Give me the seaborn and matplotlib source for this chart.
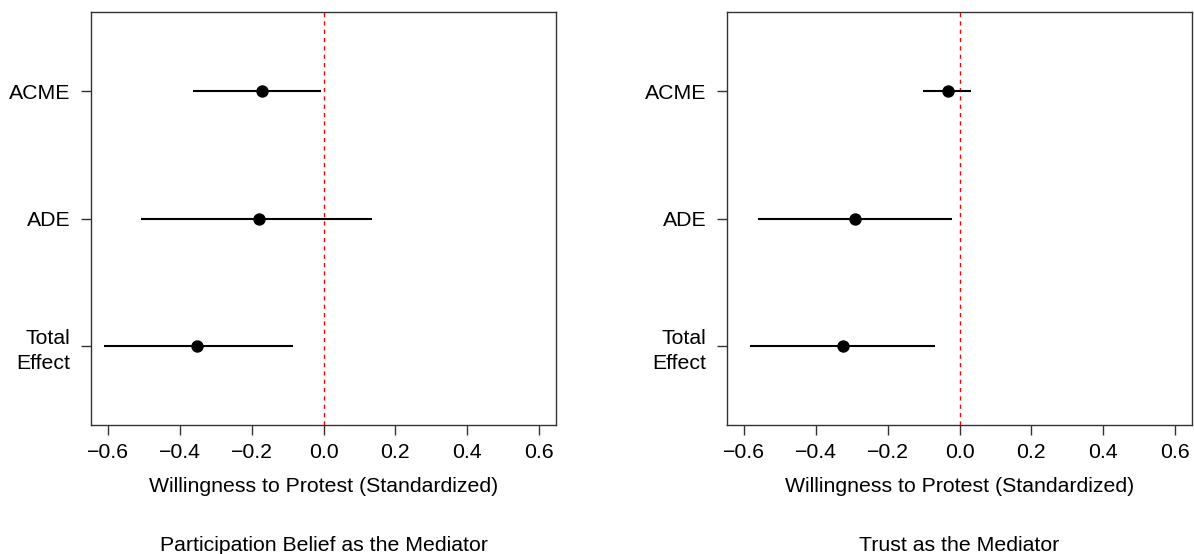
import matplotlib
matplotlib.use("Agg")
import matplotlib.pyplot as plt
import seaborn as sns
import pandas as pd

sns.set_theme(style="white")
plt.rcParams['font.family'] = ['Liberation Sans', 'DejaVu Sans']

effects = ["ACME", "ADE", "Total\nEffect"]
ypos = [3, 2, 1]

left_est = [-0.172, -0.181, -0.353]
left_lo = [-0.364, -0.508, -0.611]
left_hi = [-0.008, 0.136, -0.086]

right_est = [-0.033, -0.292, -0.325]
right_lo = [-0.103, -0.561, -0.583]
right_hi = [0.031, -0.022, -0.067]

xticks = [-0.6, -0.4, -0.2, 0.0, 0.2, 0.4, 0.6]
xlabel = "Willingness to Protest (Standardized)"
titles = ["Participation Belief as the Mediator", "Trust as the Mediator"]

W, H = 1194, 554
fig = plt.figure(figsize=(W / 100, H / 100), dpi=100)
fs = 15.3

panels = [(left_est, left_lo, left_hi), (right_est, right_lo, right_hi)]
lefts = [91, 727]
for i, (est, lo, hi) in enumerate(panels):
    ax = fig.add_axes([lefts[i] / W, (H - 425) / H, 465 / W, 413 / H])
    df = pd.DataFrame({"est": est, "y": ypos, "lo": lo, "hi": hi})
    ax.axvline(0, color="red", lw=1, ls=(0, (3, 3)), zorder=1)
    ax.hlines(df["y"], df["lo"], df["hi"], color="black", lw=1.5, zorder=2)
    sns.scatterplot(data=df, x="est", y="y", ax=ax, color="black", s=80,
                    edgecolor="black", linewidth=0, zorder=3)
    ax.set_xlim(-0.648, 0.648)
    ax.set_ylim(0.38, 3.62)
    ax.set_xticks(xticks)
    ax.set_xticklabels(["\u22120.6", "\u22120.4", "\u22120.2", "0.0", "0.2", "0.4", "0.6"])
    ax.set_yticks(ypos)
    ax.set_yticklabels(effects, linespacing=1.4)
    ax.tick_params(axis="both", length=7, width=1, color="#333333",
                   labelsize=fs, labelcolor="black", direction="out",
                   bottom=True, left=True)
    ax.tick_params(axis="x", pad=6)
    ax.tick_params(axis="y", pad=8)
    for sp in ax.spines.values():
        sp.set_visible(True)
        sp.set_color("#333333")
        sp.set_linewidth(1)
    ax.set_xlabel("")
    ax.set_ylabel("")
    ax.text(0.5, (425 - 492) / 413, xlabel, transform=ax.transAxes,
            ha="center", va="baseline", fontsize=fs, color="black")
    ax.text(0.5, (425 - 551) / 413, titles[i], transform=ax.transAxes,
            ha="center", va="baseline", fontsize=fs, color="black")

fig.savefig("out.png", dpi=100)
